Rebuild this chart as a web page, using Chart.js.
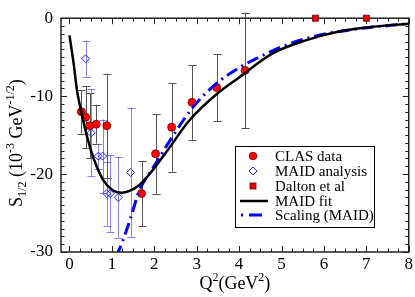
<!DOCTYPE html>
<html><head><meta charset="utf-8">
<script src="https://cdn.jsdelivr.net/npm/chart.js@4/dist/chart.umd.min.js"></script>
<style>html,body{margin:0;padding:0;background:#fff}#wrap{width:415px;height:297px;position:relative}canvas{display:block}</style>
</head><body><div id="wrap"><canvas id="c" width="415" height="297"></canvas></div>
<script>
// CLAS data
const clasQ2  = [0.28, 0.38, 0.48, 0.63, 0.88, 1.70, 2.03, 2.41, 2.89, 3.47, 4.14];
const clasS   = [-12.0, -12.7, -13.8, -13.6, -13.8, -22.5, -17.4, -14.0, -10.8, -8.9, -6.7];
const clasErr = [2.8, 4.0, 4.2, 2.5, 6.7, 4.2, 5.1, 5.7, 4.8, 4.3, 7.4];
// MAID analysis
const maidQ2  = [0.38, 0.51, 0.68, 0.78, 0.88, 0.96, 1.15, 1.44];
const maidS   = [-5.2, -14.7, -17.7, -17.7, -22.5, -22.5, -23.0, -19.8];
const maidErr = [2.3, 5.6, 1.6, 4.7, 4.1, 4.9, 5.2, 8.3];
// Dalton et al
const daltonQ2 = [5.8, 7.0];
const daltonS  = [0.0, 0.0];
// MAID fit
const fitQ2 = [0, 0.1, 0.17, 0.29, 0.41, 0.57, 0.8, 1.03, 1.23, 1.4, 1.65, 1.89, 2.28, 2.83, 3.46, 4.0, 4.78, 5.57, 6.35, 7.14, 8.0];
const fitS  = [-2.2, -5.9, -9.0, -12.3, -15.1, -18.0, -20.8, -22.1, -22.4, -22.2, -21.4, -20.0, -17.2, -13.1, -9.8, -7.6, -4.55, -2.85, -1.7, -1.1, -0.7];
// Scaling (MAID)
const scaleQ2 = [1.1, 1.24, 1.45, 1.64, 1.97, 2.44, 2.9, 3.46, 3.99, 4.47, 5.18, 5.96, 6.75, 8.0];
const scaleS  = [-30.6, -28.8, -25.5, -22.2, -19.2, -15.1, -11.5, -8.4, -6.4, -5.0, -3.3, -2.1, -1.4, -0.7];
// ticks
const xTicks = [0, 1, 2, 3, 4, 5, 6, 7, 8];
const yTicks = [0, -10, -20, -30];
const legendLabels = ['CLAS data', 'MAID analysis', 'Dalton et al', 'MAID fit', 'Scaling (MAID)'];

const FONT = '"Liberation Serif", "Times New Roman", serif';
const pts = (xs, ys) => xs.map((x, i) => ({x: x, y: ys[i]}));

function drawRich(ctx, parts, x, y, size) {
  const small = Math.round(size * 0.68);
  let w = 0;
  parts.forEach(p => { ctx.font = (p[1] === 'n' ? size : small) + 'px ' + FONT; w += ctx.measureText(p[0]).width; });
  let cx = x - w / 2;
  ctx.textBaseline = 'alphabetic';
  ctx.textAlign = 'left';
  parts.forEach(p => {
    ctx.font = (p[1] === 'n' ? size : small) + 'px ' + FONT;
    let dy = 0;
    if (p[1] === 'sup') dy = -size * 0.42;
    if (p[1] === 'sub') dy = size * 0.2;
    ctx.fillText(p[0], cx, y + dy);
    cx += ctx.measureText(p[0]).width;
  });
}

const decor = {
  id: 'decor',
  beforeDatasetsDraw(chart) {
    const {ctx, chartArea: a, scales: {x, y}} = chart;
    ctx.save();
    const bars = (xs, ys, es, color) => {
      ctx.strokeStyle = color; ctx.lineWidth = 1;
      xs.forEach((q, i) => {
        const px = Math.round(x.getPixelForValue(q)) + 0.5;
        const y1 = y.getPixelForValue(ys[i] + es[i]);
        const y2 = y.getPixelForValue(ys[i] - es[i]);
        ctx.beginPath();
        ctx.moveTo(px, y1); ctx.lineTo(px, y2);
        ctx.moveTo(px - 4, Math.round(y1) + 0.5); ctx.lineTo(px + 4, Math.round(y1) + 0.5);
        ctx.moveTo(px - 4, Math.round(y2) + 0.5); ctx.lineTo(px + 4, Math.round(y2) + 0.5);
        ctx.stroke();
      });
    };
    bars(maidQ2, maidS, maidErr, 'rgba(80,80,255,0.7)');
    bars(clasQ2, clasS, clasErr, '#555');
    ctx.strokeStyle = '#222'; ctx.lineWidth = 1.5;
    ctx.strokeRect(a.left, a.top, a.right - a.left, a.bottom - a.top);
    ctx.lineWidth = 1;
    ctx.beginPath();
    for (let k = 0; k <= 32; k++) {
      const v = k * 0.25;
      const px = Math.round(x.getPixelForValue(v)) + 0.5;
      const len = k % 4 === 0 ? 6 : 3.5;
      ctx.moveTo(px, a.bottom); ctx.lineTo(px, a.bottom - len);
      ctx.moveTo(px, a.top); ctx.lineTo(px, a.top + len);
    }
    for (let v = -30; v <= 0; v += 1) {
      const py = Math.round(y.getPixelForValue(v)) + 0.5;
      const len = v % 10 === 0 ? 6 : 3.5;
      ctx.moveTo(a.left, py); ctx.lineTo(a.left + len, py);
      ctx.moveTo(a.right, py); ctx.lineTo(a.right - len, py);
    }
    ctx.stroke();
    ctx.restore();
  },
  afterDraw(chart) {
    const {ctx, chartArea: a} = chart;
    ctx.save();
    ctx.fillStyle = '#000';
    drawRich(ctx, [['Q', 'n'], ['2', 'sup'], ['(GeV', 'n'], ['2', 'sup'], [')', 'n']], (a.left + a.right) / 2, 289, 18);
    ctx.save();
    ctx.translate(22, (a.top + a.bottom) / 2 + 8);
    ctx.rotate(-Math.PI / 2);
    drawRich(ctx, [['S', 'n'], ['1/2', 'sub'], [' (10', 'n'], ['-3', 'sup'], [' GeV', 'n'], ['-1/2', 'sup'], [')', 'n']], 0, 0, 18);
    ctx.restore();
    const lx = 235, ly = 146, lw = 139, lh = 81;
    ctx.fillStyle = '#fff';
    ctx.fillRect(lx, ly, lw, lh);
    ctx.strokeStyle = '#000'; ctx.lineWidth = 1;
    ctx.strokeRect(lx + 0.5, ly + 0.5, lw, lh);
    const rows = [156, 171, 186, 201, 215];
    const sx = 253;
    ctx.font = '15px ' + FONT;
    ctx.textBaseline = 'middle'; ctx.textAlign = 'left';
    ctx.fillStyle = '#000';
    legendLabels.forEach((t, i) => ctx.fillText(t, 275, rows[i] + 1));
    ctx.beginPath(); ctx.arc(sx, rows[0], 3.8, 0, Math.PI * 2);
    ctx.fillStyle = '#f00'; ctx.fill(); ctx.strokeStyle = '#700'; ctx.lineWidth = 0.8; ctx.stroke();
    ctx.beginPath();
    ctx.moveTo(sx, rows[1] - 4); ctx.lineTo(sx + 4, rows[1]); ctx.lineTo(sx, rows[1] + 4); ctx.lineTo(sx - 4, rows[1]); ctx.closePath();
    ctx.strokeStyle = '#22f'; ctx.lineWidth = 1; ctx.stroke();
    ctx.fillStyle = '#e00'; ctx.fillRect(sx - 3, rows[2] - 3, 6, 6);
    ctx.strokeStyle = '#600'; ctx.lineWidth = 0.8; ctx.strokeRect(sx - 3, rows[2] - 3, 6, 6);
    ctx.strokeStyle = '#000'; ctx.lineWidth = 2.5;
    ctx.beginPath(); ctx.moveTo(240, rows[3]); ctx.lineTo(268, rows[3]); ctx.stroke();
    ctx.strokeStyle = '#00f'; ctx.lineWidth = 3;
    ctx.beginPath(); ctx.moveTo(241, rows[4]); ctx.lineTo(243, rows[4]); ctx.moveTo(249, rows[4]); ctx.lineTo(262, rows[4]); ctx.stroke();
    ctx.restore();
  }
};

new Chart(document.getElementById('c'), {
  type: 'scatter',
  data: {
    datasets: [
      {label: 'MAID fit', data: pts(fitQ2, fitS), showLine: true, borderColor: '#000', borderWidth: 2.5, pointRadius: 0, cubicInterpolationMode: 'monotone', fill: false},
      {label: 'Scaling (MAID)', data: pts(scaleQ2, scaleS), showLine: true, borderColor: '#00f', borderWidth: 3, borderDash: [12, 5, 2, 5], pointRadius: 0, cubicInterpolationMode: 'monotone', fill: false},
      {label: 'MAID analysis', data: pts(maidQ2, maidS), pointStyle: 'rectRot', pointRadius: 4, backgroundColor: 'rgba(255,255,255,0)', borderColor: '#22f', borderWidth: 1},
      {label: 'CLAS data', data: pts(clasQ2, clasS), pointStyle: 'circle', pointRadius: 4, backgroundColor: '#f00', borderColor: '#700', borderWidth: 0.8},
      {label: 'Dalton et al', data: pts(daltonQ2, daltonS), pointStyle: 'rect', pointRadius: 4.3, backgroundColor: '#e00', borderColor: '#600', borderWidth: 0.8, clip: false}
    ]
  },
  options: {
    responsive: false,
    animation: false,
    devicePixelRatio: 1,
    layout: {padding: {left: 0, right: 6, top: 6, bottom: 0}},
    plugins: {legend: {display: false}, tooltip: {enabled: false}},
    scales: {
      x: {
        type: 'linear', min: -0.2, max: 8,
        grid: {display: false, drawTicks: false, tickLength: 0}, border: {display: false},
        afterBuildTicks: s => { s.ticks = xTicks.map(v => ({value: v})); },
        afterFit: s => { s.height = 45; },
        ticks: {font: {family: FONT, size: 17}, color: '#000', padding: 2, maxRotation: 0, callback: v => String(v)}
      },
      y: {
        type: 'linear', min: -30, max: 0,
        grid: {display: false, drawTicks: false, tickLength: 0}, border: {display: false},
        afterBuildTicks: s => { s.ticks = yTicks.map(v => ({value: v})); },
        afterFit: s => { s.width = 61; },
        ticks: {font: {family: FONT, size: 17}, color: '#000', padding: 8, callback: v => String(v)}
      }
    }
  },
  plugins: [decor]
});
</script>
</body></html>
